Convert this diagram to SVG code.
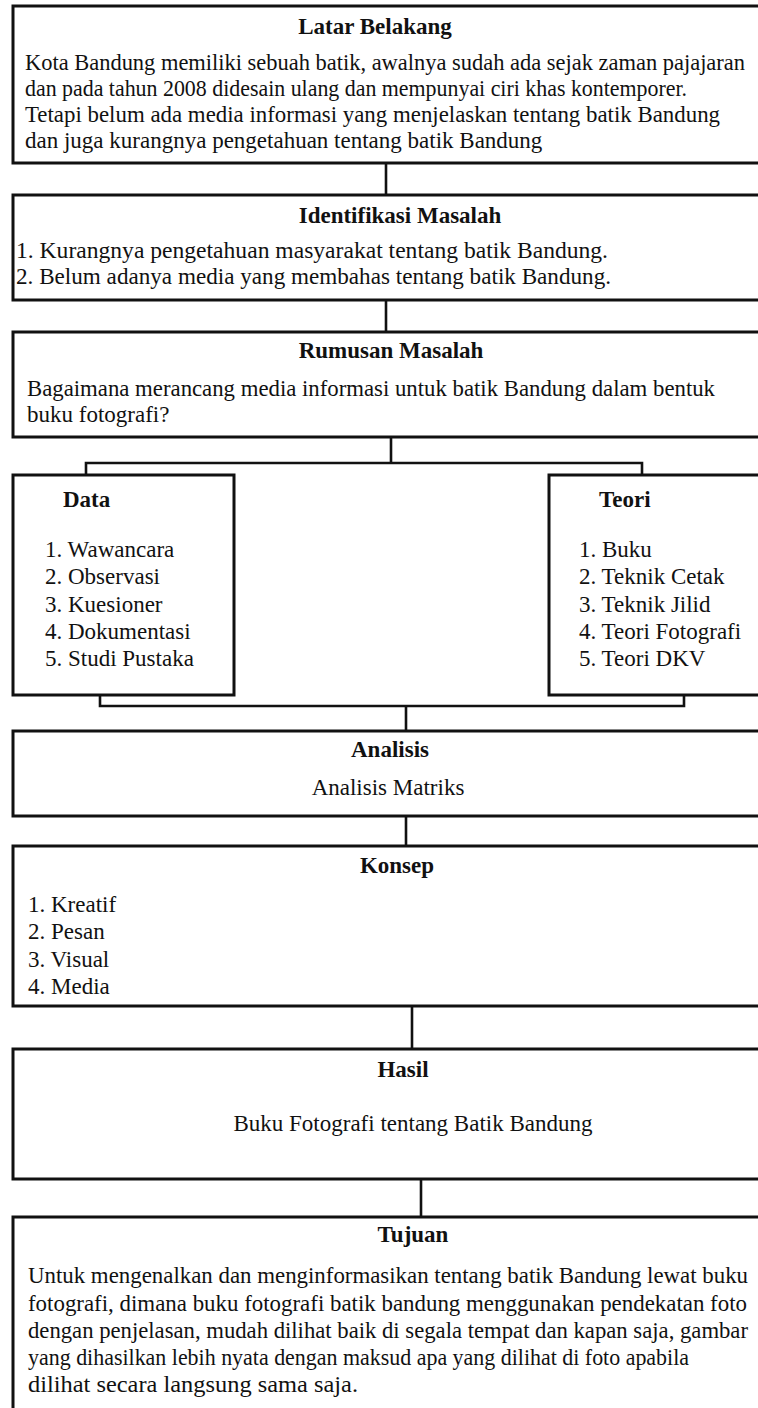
<svg xmlns="http://www.w3.org/2000/svg" width="758" height="1408" viewBox="0 0 758 1408">
  <style>
    .box { fill: #ffffff; stroke: #111111; stroke-width: 3; }
    .conn { fill: none; stroke: #111111; stroke-width: 2.6; }
    .title { font-family: "Liberation Serif", "Times New Roman", serif; font-size: 23px; font-weight: bold; fill: #111111; text-anchor: middle; }
    .ttl { font-family: "Liberation Serif", "Times New Roman", serif; font-size: 23px; font-weight: bold; fill: #111111; }
    .body { font-family: "Liberation Serif", "Times New Roman", serif; font-size: 23px; fill: #111111; }
    .mid { text-anchor: middle; }
  </style>
  <rect x="0" y="0" width="758" height="1408" fill="#ffffff"/>

  <g id="connectors">
    <line class="conn" x1="386" y1="163" x2="386" y2="195"/>
    <line class="conn" x1="386" y1="300" x2="386" y2="332"/>
    <polyline class="conn" points="391,437 391,463"/>
    <polyline class="conn" points="86,475 86,463 642,463 642,475"/>
    <polyline class="conn" points="100,695 100,706 684,706 684,695"/>
    <line class="conn" x1="406" y1="706" x2="406" y2="731"/>
    <line class="conn" x1="406" y1="816" x2="406" y2="846"/>
    <line class="conn" x1="412" y1="1006" x2="412" y2="1049"/>
    <line class="conn" x1="421" y1="1179" x2="421" y2="1217"/>
  </g>

  <g id="latar-belakang">
    <rect class="box" x="13" y="6" width="770" height="157"/>
    <text class="title" x="375" y="34">Latar Belakang</text>
    <text class="body" x="25" y="70" style="font-size:22.4px" textLength="720" lengthAdjust="spacingAndGlyphs">Kota Bandung memiliki sebuah batik, awalnya sudah ada sejak zaman pajajaran</text>
    <text class="body" x="25" y="96" textLength="662" lengthAdjust="spacingAndGlyphs">dan pada tahun 2008 didesain ulang dan mempunyai ciri khas kontemporer.</text>
    <text class="body" x="25" y="122" textLength="695" lengthAdjust="spacingAndGlyphs">Tetapi belum ada media informasi yang menjelaskan tentang batik Bandung</text>
    <text class="body" x="25" y="148">dan juga kurangnya pengetahuan tentang batik Bandung</text>
  </g>

  <g id="identifikasi-masalah">
    <rect class="box" x="13" y="195" width="770" height="105"/>
    <text class="title" x="400" y="223">Identifikasi Masalah</text>
    <text class="body" x="16" y="258" textLength="592" lengthAdjust="spacingAndGlyphs">1. Kurangnya pengetahuan masyarakat tentang batik Bandung.</text>
    <text class="body" x="16" y="284" textLength="595" lengthAdjust="spacingAndGlyphs">2. Belum adanya media yang membahas tentang batik Bandung.</text>
  </g>

  <g id="rumusan-masalah">
    <rect class="box" x="13" y="332" width="770" height="105"/>
    <text class="title" x="391" y="358">Rumusan Masalah</text>
    <text class="body" x="27" y="396" textLength="688" lengthAdjust="spacingAndGlyphs">Bagaimana merancang media informasi untuk batik Bandung dalam bentuk</text>
    <text class="body" x="27" y="422">buku fotografi?</text>
  </g>

  <g id="data">
    <rect class="box" x="13" y="475" width="221" height="220"/>
    <text class="ttl" x="63" y="507">Data</text>
    <text class="body" x="45" y="557">1. Wawancara</text>
    <text class="body" x="45" y="584">2. Observasi</text>
    <text class="body" x="45" y="612">3. Kuesioner</text>
    <text class="body" x="45" y="639">4. Dokumentasi</text>
    <text class="body" x="45" y="666">5. Studi Pustaka</text>
  </g>

  <g id="teori">
    <rect class="box" x="549" y="475" width="240" height="220"/>
    <text class="ttl" x="599" y="507">Teori</text>
    <text class="body" x="579" y="557">1. Buku</text>
    <text class="body" x="579" y="584">2. Teknik Cetak</text>
    <text class="body" x="579" y="612">3. Teknik Jilid</text>
    <text class="body" x="579" y="639">4. Teori Fotografi</text>
    <text class="body" x="579" y="666">5. Teori DKV</text>
  </g>

  <g id="analisis">
    <rect class="box" x="13" y="731" width="770" height="85"/>
    <text class="title" x="390" y="757">Analisis</text>
    <text class="body mid" x="388" y="795">Analisis Matriks</text>
  </g>

  <g id="konsep">
    <rect class="box" x="13" y="846" width="770" height="160"/>
    <text class="title" x="397" y="873">Konsep</text>
    <text class="body" x="28" y="912">1. Kreatif</text>
    <text class="body" x="28" y="939">2. Pesan</text>
    <text class="body" x="28" y="967">3. Visual</text>
    <text class="body" x="28" y="994">4. Media</text>
  </g>

  <g id="hasil">
    <rect class="box" x="13" y="1049" width="770" height="130"/>
    <text class="title" x="403" y="1077">Hasil</text>
    <text class="body mid" x="413" y="1131">Buku Fotografi tentang Batik Bandung</text>
  </g>

  <g id="tujuan">
    <rect class="box" x="13" y="1217" width="770" height="220"/>
    <text class="title" x="413" y="1242">Tujuan</text>
    <text class="body" x="28" y="1283" textLength="720" lengthAdjust="spacingAndGlyphs">Untuk mengenalkan dan menginformasikan tentang batik Bandung lewat buku</text>
    <text class="body" x="28" y="1311" textLength="719" lengthAdjust="spacingAndGlyphs">fotografi, dimana buku fotografi batik bandung menggunakan pendekatan foto</text>
    <text class="body" x="28" y="1338" textLength="720" lengthAdjust="spacingAndGlyphs">dengan penjelasan, mudah dilihat baik di segala tempat dan kapan saja, gambar</text>
    <text class="body" x="28" y="1365" textLength="661" lengthAdjust="spacingAndGlyphs">yang dihasilkan lebih nyata dengan maksud apa yang dilihat di foto apabila</text>
    <text class="body" x="28" y="1392" textLength="330" lengthAdjust="spacingAndGlyphs">dilihat secara langsung sama saja.</text>
  </g>
</svg>
